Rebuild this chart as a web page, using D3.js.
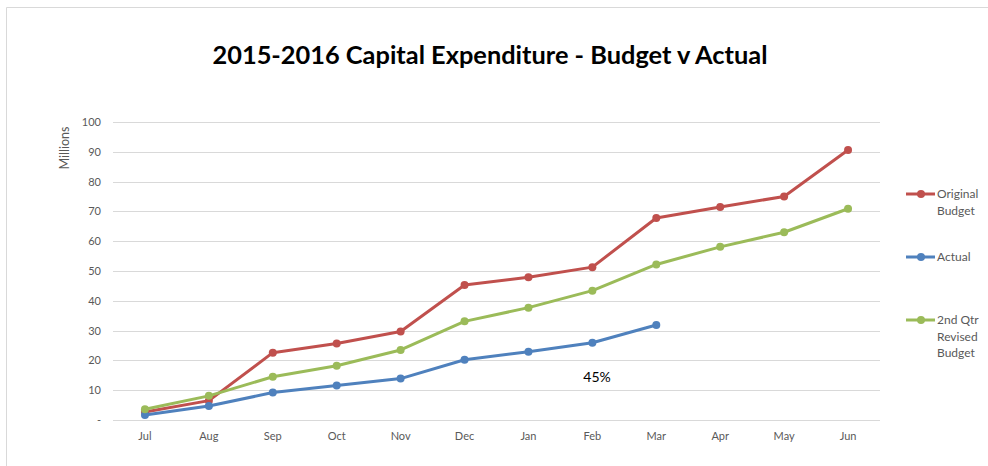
<!DOCTYPE html>
<html>
<head>
<meta charset="utf-8">
<script src="https://cdn.jsdelivr.net/npm/d3@7"></script>
<style>
  body { margin: 0; background: #fff; }
  svg text { font-family: Lato, "Open Sans", sans-serif; }
</style>
</head>
<body>
<div id="chart"></div>
<script>
const months = ["Jul","Aug","Sep","Oct","Nov","Dec","Jan","Feb","Mar","Apr","May","Jun"];
const originalBudget = [2.7, 6.5, 22.6, 25.7, 29.7, 45.3, 47.9, 51.3, 67.8, 71.5, 75.0, 90.6];
const actual = [1.7, 4.7, 9.2, 11.6, 13.9, 20.2, 22.9, 25.9, 31.9];
const revisedBudget = [3.6, 8.1, 14.5, 18.2, 23.5, 33.1, 37.7, 43.4, 52.2, 58.1, 63.0, 70.9];
const yTicks = [0, 10, 20, 30, 40, 50, 60, 70, 80, 90, 100];

const series = [
  { name: ["Original", "Budget"], values: originalBudget, color: "#c0504d", legendY: 194 },
  { name: ["Actual"], values: actual, color: "#4f81bd", legendY: 257 },
  { name: ["2nd Qtr", "Revised", "Budget"], values: revisedBudget, color: "#9bbb59", legendY: 320 }
];

const width = 988, height = 466;
const margin = { top: 122, right: 108, bottom: 46, left: 113 };

const svg = d3.select("#chart").append("svg")
  .attr("width", width)
  .attr("height", height);

// chart border (only top & left visible in the crop)
svg.append("path")
  .attr("d", "M6.5," + height + "V7.5H" + width)
  .attr("fill", "none")
  .attr("stroke", "#d9d9d9")
  .attr("stroke-width", 1);

svg.append("text")
  .attr("x", 490)
  .attr("y", 64)
  .attr("text-anchor", "middle")
  .attr("font-size", "25px")
  .attr("font-weight", "bold")
  .attr("fill", "#000")
  .attr("textLength", 555)
  .attr("lengthAdjust", "spacingAndGlyphs")
  .text("2015-2016 Capital Expenditure - Budget v Actual");

const x = d3.scaleBand()
  .domain(months)
  .range([margin.left, width - margin.right]);

const y = d3.scaleLinear()
  .domain([0, 100])
  .range([height - margin.bottom, margin.top]);

// gridlines
svg.append("g")
  .selectAll("line")
  .data(yTicks)
  .join("line")
    .attr("x1", margin.left)
    .attr("x2", width - margin.right)
    .attr("y1", d => Math.round(y(d)) + 0.5)
    .attr("y2", d => Math.round(y(d)) + 0.5)
    .attr("stroke", "#d9d9d9")
    .attr("stroke-width", 1);

const yAxis = svg.append("g")
  .attr("transform", `translate(${margin.left},0)`)
  .call(d3.axisLeft(y).tickValues(yTicks).tickSize(0).tickPadding(12)
    .tickFormat(d => d === 0 ? "-" : d));
yAxis.select(".domain").remove();
yAxis.selectAll("text").attr("fill", "#595959").attr("font-size", "11px");

const xAxis = svg.append("g")
  .attr("transform", `translate(0,${height - margin.bottom})`)
  .call(d3.axisBottom(x).tickSize(0).tickPadding(12));
xAxis.select(".domain").remove();
xAxis.selectAll("text").attr("fill", "#595959").attr("font-size", "11px");

svg.append("text")
  .attr("transform", "translate(69,148) rotate(-90)")
  .attr("text-anchor", "middle")
  .attr("font-size", "12.5px")
  .attr("fill", "#595959")
  .text("Millions");

const line = d3.line()
  .x((d, i) => x(months[i]) + x.bandwidth() / 2)
  .y(d => y(d));

series.forEach(s => {
  svg.append("path")
    .datum(s.values)
    .attr("fill", "none")
    .attr("stroke", s.color)
    .attr("stroke-width", 3)
    .attr("stroke-linejoin", "round")
    .attr("d", line);

  svg.append("g")
    .selectAll("circle")
    .data(s.values)
    .join("circle")
      .attr("cx", (d, i) => x(months[i]) + x.bandwidth() / 2)
      .attr("cy", d => y(d))
      .attr("r", 4)
      .attr("fill", s.color);

  // legend
  const lg = svg.append("g").attr("transform", `translate(906,${s.legendY})`);
  lg.append("line")
    .attr("x1", 0).attr("x2", 29)
    .attr("stroke", s.color)
    .attr("stroke-width", 3);
  lg.append("circle")
    .attr("cx", 15).attr("r", 4)
    .attr("fill", s.color);
  lg.append("text")
    .attr("x", 31)
    .attr("font-size", "12px")
    .attr("fill", "#595959")
    .selectAll("tspan")
    .data(s.name)
    .join("tspan")
      .attr("x", 31)
      .attr("dy", (d, i) => i === 0 ? "0.35em" : "1.38em")
      .text(d => d);
});

// percent annotation
svg.append("text")
  .attr("x", 597)
  .attr("y", 382)
  .attr("text-anchor", "middle")
  .attr("font-size", "14px")
  .attr("fill", "#000")
  .text("45%");
</script>
</body>
</html>
